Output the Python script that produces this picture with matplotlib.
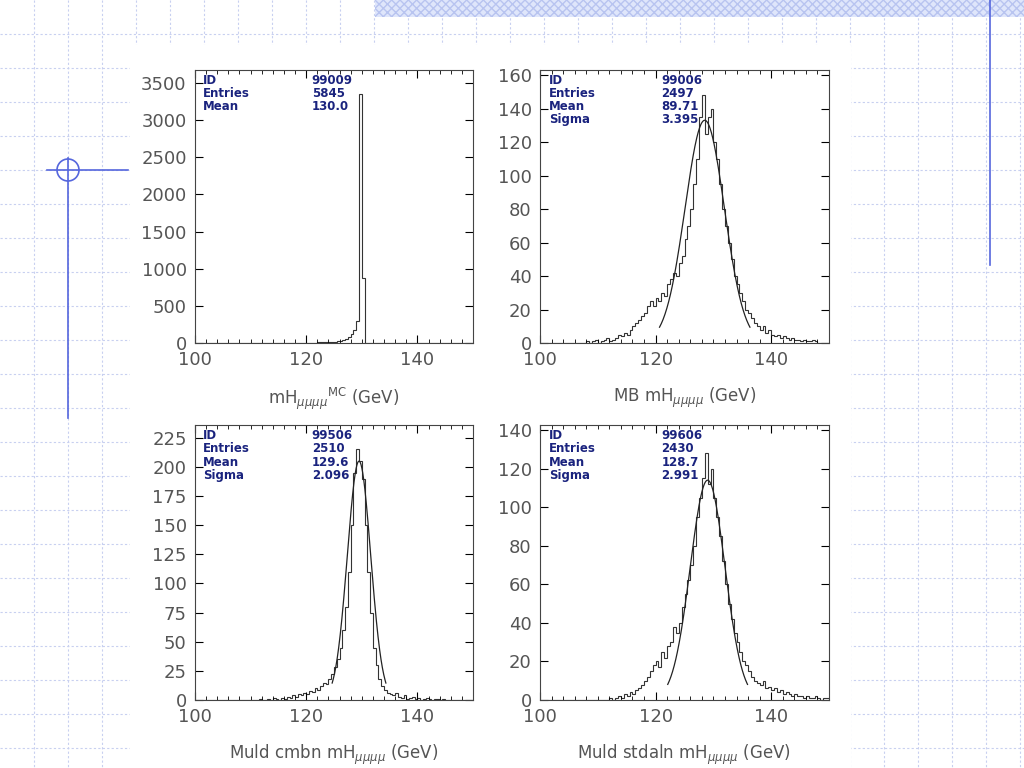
import numpy as np
import matplotlib
matplotlib.use("Agg")
import matplotlib.pyplot as plt
from matplotlib.patches import Rectangle, Circle
from matplotlib.lines import Line2D

edges = np.arange(100, 150.01, 0.5)

# Panel 1: MC truth mass (counts per 0.5 GeV bin)
mc_counts = [0]*15 + [2,0,1,0,3,0,1,2,0,1,2,1,0,2,1,3,2,1,3,2,4,3,2,5,4,3,5,6,5,8,7,9,10,12,14,18,22,30,40,55,80,120,180,300,3350,880] + [0]*40
# Panel 2: MB
mb_counts = [0]*16 + [1,0,1,2,0,1,2,3,1,2,3,5,4,6,5,8,10,12,14,16,18,22,25,22,27,25,30,28,35,38,42,40,48,52,62,70,80,95,110,135,148,125,135,140,120,110,95,80,70,60,50,40,35,30,25,20,18,15,12,10,8,10,6,8,5,4,5,3,4,3,2,3,2,2,1,2,1,1,2,1]
# Panel 3: Muld cmbn
cb_counts = [0]*23 + [1,0,0,1,0,2,1,0,2,1,3,2,4,3,5,4,6,5,8,7,10,9,12,15,14,18,22,28,35,45,60,80,110,150,195,215,205,190,150,110,75,45,30,18,12,9,6,5,4,6,3,2,4,1,2,3,1,2,0,1,2,1,0,1,1,0,1] + [0]*21
# Panel 4: Muld stdaln
sa_counts = [0]*24 + [1,0,1,2,1,3,2,4,3,5,6,8,10,12,15,18,20,17,25,22,28,30,38,35,40,48,55,62,70,80,95,105,115,128,112,120,105,95,85,72,60,50,42,35,30,25,20,18,15,12,10,9,8,10,6,7,5,6,4,5,3,4,3,2,3,2,2,1,2,1,1,2,1,0,1,1,2,1,0,1]

def pad(c):
    c = list(c)[:100]
    return np.array(c + [0]*(100-len(c)))

panels = [
    dict(c=pad(mc_counts), ylim=3675, yt=np.arange(0, 3501, 500), stats=[("ID","99009"),("Entries","5845"),("Mean","130.0")],
         xlabel=r"mH$_{\mu\mu\mu\mu}$$^{\rm MC}$ (GeV)", fit=None),
    dict(c=pad(mb_counts), ylim=163, yt=np.arange(0, 161, 20), stats=[("ID","99006"),("Entries","2497"),("Mean","89.71"),("Sigma","3.395")],
         xlabel=r"MB mH$_{\mu\mu\mu\mu}$ (GeV)", fit=(133, 128.5, 3.4)),
    dict(c=pad(cb_counts), ylim=236, yt=np.arange(0, 226, 25), stats=[("ID","99506"),("Entries","2510"),("Mean","129.6"),("Sigma","2.096")],
         xlabel=r"Muld cmbn mH$_{\mu\mu\mu\mu}$ (GeV)", fit=(205, 129.5, 2.1)),
    dict(c=pad(sa_counts), ylim=142.6, yt=np.arange(0, 141, 20), stats=[("ID","99606"),("Entries","2430"),("Mean","128.7"),("Sigma","2.991")],
         xlabel=r"Muld stdaln mH$_{\mu\mu\mu\mu}$ (GeV)", fit=(114, 129.0, 3.0)),
]

W, H = 1024, 768
fig = plt.figure(figsize=(W/100, H/100), dpi=100)
bg = fig.add_axes([0, 0, 1, 1]); bg.set_xlim(0, W); bg.set_ylim(H, 0); bg.axis("off")
gc = "#c8d0f0"
for g in np.arange(34, W, 34):
    bg.add_line(Line2D([g, g], [0, H], color=gc, lw=0.8, ls=(0, (2, 2))))
for g in np.arange(34, H, 34):
    bg.add_line(Line2D([0, W], [g, g], color=gc, lw=0.8, ls=(0, (2, 2))))
bg.add_patch(Rectangle((130, 45), 720, 723, color="white", zorder=2))
bg.add_patch(Rectangle((375, 0), 649, 17, facecolor="#dfe6fb", edgecolor="#b8c4f0", hatch="xxxx", lw=0, zorder=3))
lc = "#5566dd"
bg.add_line(Line2D([990, 990], [0, 265], color=lc, lw=1.2, zorder=4))
bg.add_line(Line2D([47, 128], [170, 170], color=lc, lw=1.2, zorder=4))
bg.add_line(Line2D([68, 68], [158, 418], color=lc, lw=1.2, zorder=4))
bg.add_patch(Circle((68, 170), 11, fill=False, edgecolor=lc, lw=1.2, zorder=4))

boxes = [(195, 70, 473, 343), (540, 70, 829, 343), (195, 425, 473, 700), (540, 425, 829, 700)]
for p, (x0, y0, x1, y1) in zip(panels, boxes):
    ax = fig.add_axes([x0/W, 1-y1/H, (x1-x0)/W, (y1-y0)/H])
    ax.stairs(p["c"], edges, color="#333333", lw=0.8)
    if p["fit"]:
        a, m, s = p["fit"]
        xx = np.linspace(m-2.3*s, m+2.3*s, 200)
        ax.plot(xx, a*np.exp(-0.5*((xx-m)/s)**2), color="#222222", lw=0.9)
    ax.set_xlim(100, 150); ax.set_ylim(0, p["ylim"])
    ax.set_xticks([100, 120, 140]); ax.set_yticks(p["yt"])
    ax.set_xticks(np.arange(100, 151, 2), minor=True)
    ax.tick_params(direction="in", length=6, labelsize=13, labelcolor="#555555", pad=6, top=True, right=True)
    ax.tick_params(which="minor", direction="in", length=3, top=True, right=True)
    ax.set_xlabel(p["xlabel"], fontsize=12, color="#555555", labelpad=12)
    for sp in ax.spines.values():
        sp.set_color("#444444"); sp.set_linewidth(0.8)
    for i, (k, v) in enumerate(p["stats"]):
        ax.text(0.03, 0.985-i*0.048, k, transform=ax.transAxes, fontsize=8.5, fontweight="bold", color="#1a237e", va="top")
        ax.text(0.42, 0.985-i*0.048, v, transform=ax.transAxes, fontsize=8.5, fontweight="bold", color="#1a237e", va="top")

fig.savefig("out.png", dpi=100)
